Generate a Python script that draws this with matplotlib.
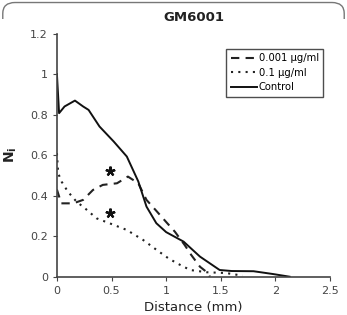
import numpy as np
import matplotlib.pyplot as plt
from matplotlib.patches import FancyBboxPatch, Rectangle

# Control (solid)
ctrl_x = [0.0, 0.02, 0.07, 0.165, 0.24, 0.29, 0.39, 0.52, 0.64, 0.745, 0.82, 0.91, 1.0,
          1.16, 1.31, 1.49, 1.6, 1.8, 1.98, 2.13]
ctrl_y = [1.0, 0.807, 0.84, 0.869, 0.84, 0.823, 0.741, 0.667, 0.593, 0.47, 0.346, 0.264, 0.22,
          0.173, 0.099, 0.033, 0.028, 0.027, 0.013, 0.0]

# 0.001 ug/ml (dashed)
low_x = [0.0, 0.04, 0.15, 0.24, 0.33, 0.42, 0.55, 0.65, 0.745, 0.82, 0.91, 1.0, 1.08,
         1.17, 1.23, 1.31, 1.385, 1.4]
low_y = [0.43, 0.362, 0.362, 0.379, 0.428, 0.453, 0.461, 0.494, 0.461, 0.379, 0.325, 0.27, 0.222,
         0.156, 0.107, 0.049, 0.017, 0.0]

# 0.1 ug/ml (dotted)
high_x = [0.0, 0.012, 0.043, 0.1, 0.18, 0.256, 0.363, 0.485, 0.638, 0.79, 0.913, 1.02, 1.1,
          1.22, 1.37, 1.55, 1.7]
high_y = [0.61, 0.51, 0.469, 0.42, 0.37, 0.338, 0.288, 0.263, 0.231, 0.181, 0.132, 0.091, 0.066,
          0.033, 0.022, 0.018, 0.005]

# significance markers
star_x = [0.49, 0.49]
star_y = [0.52, 0.316]

fig = plt.figure(figsize=(3.47, 3.15), dpi=100)
ax = fig.add_axes([0.164, 0.1216, 0.787, 0.772])

ax.plot(low_x, low_y, color='#222222', lw=1.5, ls=(0, (4, 3)), label='0.001 \u00b5g/ml')
ax.plot(high_x, high_y, color='#222222', lw=1.5, ls=(0, (1, 2.5)), label='0.1 \u00b5g/ml')
ax.plot(ctrl_x, ctrl_y, color='#111111', lw=1.4, label='Control')

ax.plot(star_x, star_y, ls='none', marker=(5, 2, 0), markersize=7, mew=1.6, color='#111111')

ax.set_xlim(0, 2.5)
ax.set_ylim(0, 1.2)
ax.set_xticks([0, 0.5, 1, 1.5, 2, 2.5])
ax.set_xticklabels(['0', '0.5', '1', '1.5', '2', '2.5'])
ax.set_yticks([0, 0.2, 0.4, 0.6, 0.8, 1, 1.2])
ax.set_yticklabels(['0', '0.2', '0.4', '0.6', '0.8', '1', '1.2'])

for side in ['top', 'right']:
    ax.spines[side].set_visible(False)
for side in ['left', 'bottom']:
    ax.spines[side].set_color('#444444')
    ax.spines[side].set_linewidth(1.2)
ax.tick_params(direction='out', length=3, width=0.8, colors='#444444', labelsize=8, labelcolor='#444444')

ax.set_xlabel('Distance (mm)', fontsize=9.5, color='#222222', labelpad=4)
ax.set_ylabel('N$_\\mathbf{i}$', fontsize=10, fontweight='bold', color='#222222', labelpad=8)
ax.set_title('GM6001', fontsize=9.5, fontweight='bold', color='#222222', pad=9)

leg = ax.legend(loc='upper right', bbox_to_anchor=(0.975, 0.937), fontsize=7.2, frameon=True,
                fancybox=False, edgecolor='#222222', handlelength=2.6, handletextpad=0.2,
                borderpad=0.45, labelspacing=0.45, borderaxespad=0)
leg.get_frame().set_linewidth(1.0)

# rounded outer frame, only its top part shows
frame = FancyBboxPatch((0.008, 0.008), 0.984, 0.984, boxstyle='round,pad=0,rounding_size=0.035',
                       transform=fig.transFigure, fill=False, edgecolor='#777777', lw=1.0)
clip = Rectangle((0, 0.94), 1, 0.06, transform=fig.transFigure)
frame.set_clip_path(clip)
fig.patches.append(frame)

fig.savefig('out.png', dpi=100)
